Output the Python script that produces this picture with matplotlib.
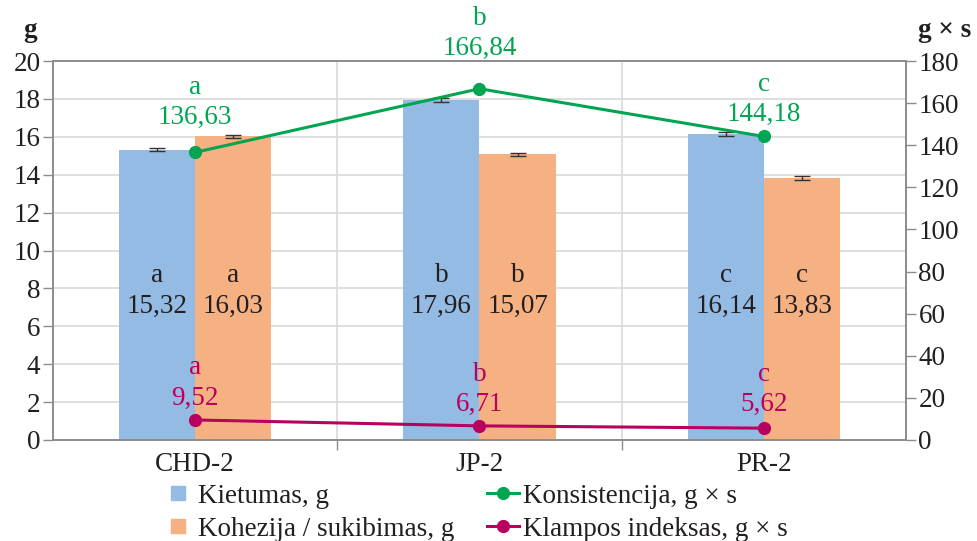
import matplotlib
matplotlib.use("Agg")
import matplotlib.pyplot as plt
from matplotlib.lines import Line2D
import numpy as np

plt.rcParams['font.family'] = ['Liberation Serif', 'DejaVu Serif']

# Data
categories = ["CHD-2", "JP-2", "PR-2"]
kietumas = [15.32, 17.96, 16.14]
kietumas_err = [0.09, 0.10, 0.10]
kietumas_letters = ["a", "b", "c"]
kohezija = [16.03, 15.07, 13.83]
kohezija_err = [0.08, 0.08, 0.09]
kohezija_letters = ["a", "b", "c"]
konsistencija = [136.63, 166.84, 144.18]
konsistencija_letters = ["a", "b", "c"]
klampos = [9.52, 6.71, 5.62]
klampos_letters = ["a", "b", "c"]

left_ticks = list(range(0, 21, 2))
right_ticks = list(range(0, 181, 20))

BLUE = "#94BBE3"
ORANGE = "#F6B182"
GREEN = "#00A551"
MAGENTA = "#B8005F"
SPINE = "#8c8c8c"
GRID = "#d9d9d9"
TXT = "#231f20"
FS = 19.5
LS = 1.27

def fmt(v):
    return f"{v:.2f}".replace(".", ",")

fig = plt.figure(figsize=(9.77, 5.41), dpi=100)
ax = fig.add_axes([0.0542, 0.1867, 0.8731, 0.7005])
ax2 = ax.twinx()

x = np.arange(len(categories))
w = 0.268

ax.set_axisbelow(True)
ax.bar(x - w / 2, kietumas, w, color=BLUE, zorder=2)
ax.bar(x + w / 2, kohezija, w, color=ORANGE, zorder=2)
ax.errorbar(x - w / 2, kietumas, yerr=kietumas_err, fmt="none", ecolor="#333333",
            elinewidth=1.0, capsize=6, capthick=1.0, zorder=3)
ax.errorbar(x + w / 2, kohezija, yerr=kohezija_err, fmt="none", ecolor="#333333",
            elinewidth=1.0, capsize=6, capthick=1.0, zorder=3)

# value labels inside bars
for i in range(len(categories)):
    ax.text(x[i] - w / 2, 7.86, f"{kietumas_letters[i]}\n{fmt(kietumas[i])}",
            ha="center", va="center", fontsize=FS, color=TXT, linespacing=LS, zorder=4)
    ax.text(x[i] + w / 2, 7.86, f"{kohezija_letters[i]}\n{fmt(kohezija[i])}",
            ha="center", va="center", fontsize=FS, color=TXT, linespacing=LS, zorder=4)

ax.set_xlim(-0.5, 2.5)
ax.set_ylim(0, 20)
ax.set_yticks(left_ticks)
ax.set_xticks(x)
ax.set_xticklabels(categories)
ax.set_xticks([0.5, 1.5], minor=True)
ax.tick_params(axis="x", which="major", length=0, pad=9, labelsize=FS, labelcolor=TXT)
ax.tick_params(axis="x", which="minor", length=7, color=SPINE, width=1)
ax.tick_params(axis="y", length=7, color=SPINE, width=1, labelsize=FS, labelcolor=TXT, pad=2)
ax.grid(axis="y", color=GRID, linewidth=1.2)
ax.grid(axis="x", which="minor", color=GRID, linewidth=1.2)

for sp in ax.spines.values():
    sp.set_color(SPINE)
    sp.set_linewidth(1.2)

# lines on secondary axis
ax2.plot(x, konsistencija, color=GREEN, linewidth=2.2, marker="o", markersize=8.5, zorder=5)
ax2.plot(x, klampos, color=MAGENTA, linewidth=2.2, marker="o", markersize=8.5, zorder=5)
ax2.set_ylim(0, 180)
ax2.set_yticks(right_ticks)
ax2.tick_params(axis="y", length=7, color=SPINE, width=1, labelsize=FS, labelcolor=TXT, pad=2)
for sp in ax2.spines.values():
    sp.set_color(SPINE)
    sp.set_linewidth(1.2)

green_offsets = [36, 40, 26.6]
magenta_offsets = [26.6, 26.3, 27.7]
for i in range(len(categories)):
    ax2.annotate(f"{konsistencija_letters[i]}\n{fmt(konsistencija[i])}",
                 (x[i], konsistencija[i]), xytext=(0, green_offsets[i]),
                 textcoords="offset points", ha="center", va="center",
                 fontsize=FS, color=GREEN, linespacing=LS)
    ax2.annotate(f"{klampos_letters[i]}\n{fmt(klampos[i])}",
                 (x[i], klampos[i]), xytext=(0, magenta_offsets[i]),
                 textcoords="offset points", ha="center", va="center",
                 fontsize=FS, color=MAGENTA, linespacing=LS)

fig.text(0.031, 0.943, "g", fontsize=FS, fontweight="bold", color=TXT, ha="center", va="center")
fig.text(0.967, 0.943, "g × s", fontsize=FS, fontweight="bold", color=TXT, ha="center", va="center")

handles = [
    Line2D([], [], color=BLUE, linestyle="none", marker="s", markersize=10.5),
    Line2D([], [], color=ORANGE, linestyle="none", marker="s", markersize=10.5),
    Line2D([], [], color=GREEN, linewidth=2.2, marker="o", markersize=8.5),
    Line2D([], [], color=MAGENTA, linewidth=2.2, marker="o", markersize=8.5),
]
labels = ["Kietumas, g", "Kohezija / sukibimas, g",
          "Konsistencija, g × s", "Klampos indeksas, g × s"]
fig.legend(handles, labels, ncol=2, loc="center", bbox_to_anchor=(0.486, 0.052),
           frameon=False, fontsize=FS, handlelength=1.2,
           handletextpad=0.15, columnspacing=1.2, labelspacing=0.3,
           labelcolor=TXT, borderaxespad=0, borderpad=0)

fig.savefig("out.png", dpi=100)
